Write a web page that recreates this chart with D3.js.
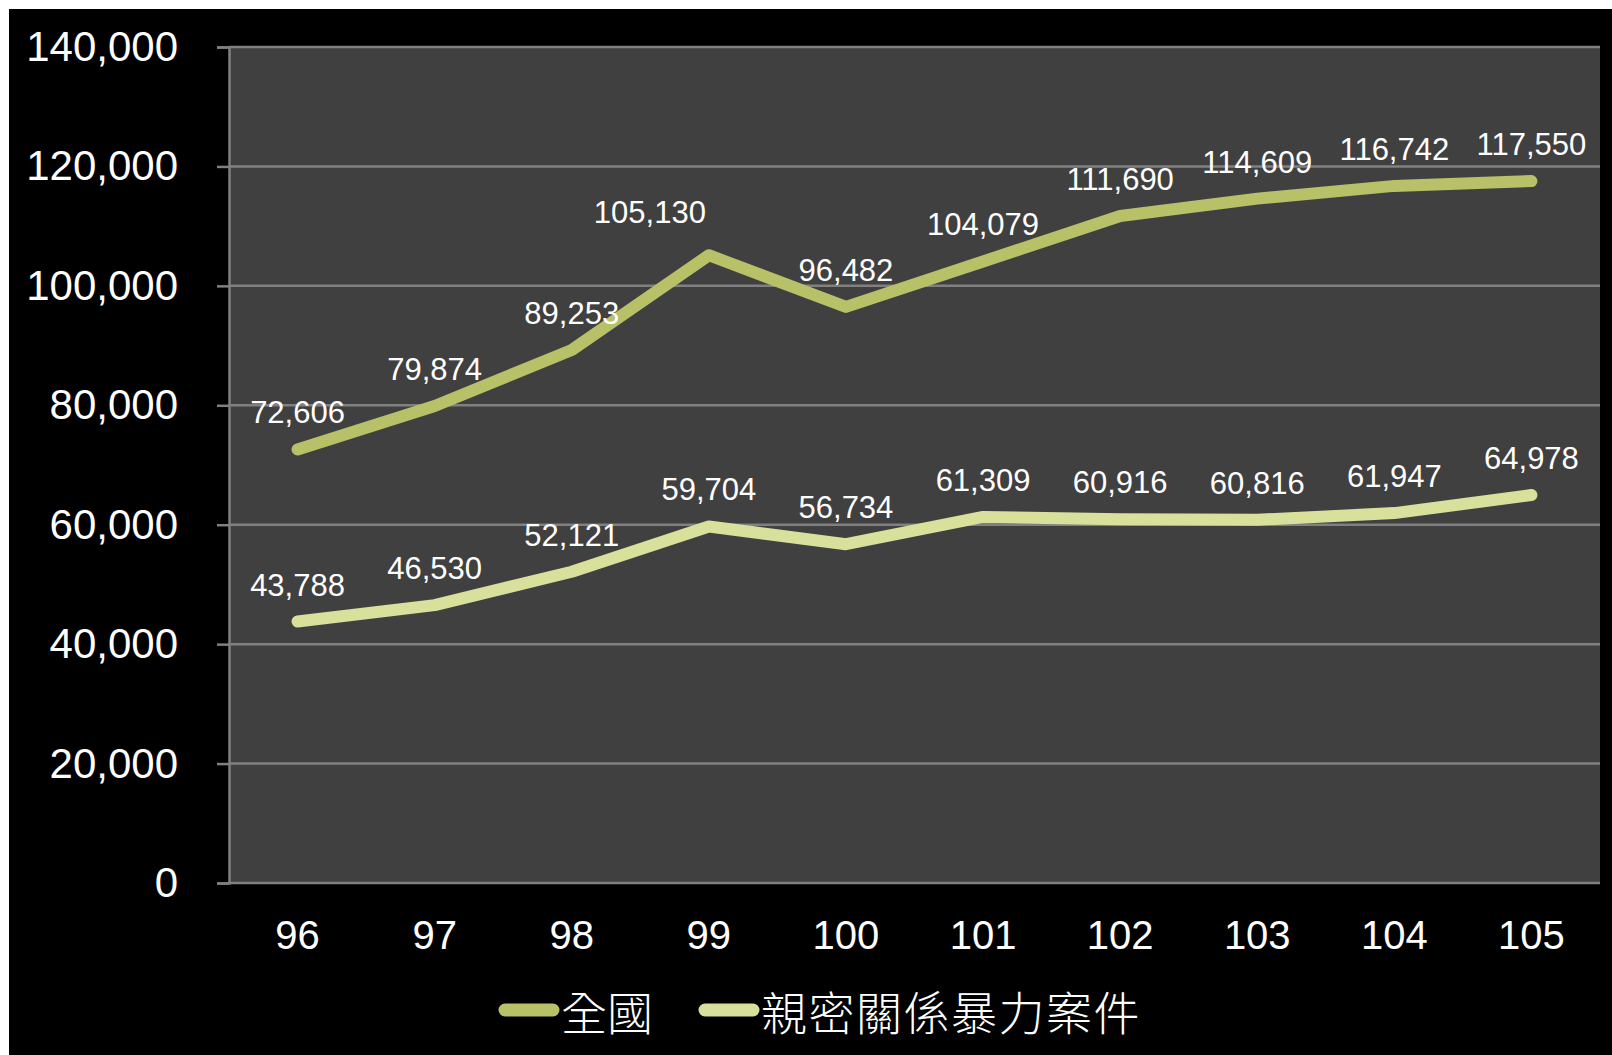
<!DOCTYPE html>
<html>
<head>
<meta charset="utf-8">
<script src="https://cdn.jsdelivr.net/npm/d3@7"></script>
<style>
  body { margin: 0; background: #fff; }
  svg { display: block; }
</style>
</head>
<body>
<div id="chart"></div>
<script>
var years = ["96", "97", "98", "99", "100", "101", "102", "103", "104", "105"];
var allCases = [72606, 79874, 89253, 105130, 96482, 104079, 111690, 114609, 116742, 117550];
var ipvCases = [43788, 46530, 52121, 59704, 56734, 61309, 60916, 60816, 61947, 64978];
var yTicks = [0, 20000, 40000, 60000, 80000, 100000, 120000, 140000];
var seriesNames = ["全國", "親密關係暴力案件"];
var seriesColors = ["#b8c068", "#d8e09c"];

var width = 1612, height = 1055;
var margin = {top: 47, right: 12, bottom: 172, left: 229};

var svg = d3.select("#chart")
    .append("svg")
      .attr("width", width)
      .attr("height", height);

svg.append("rect")
    .attr("x", 9).attr("y", 9)
    .attr("width", width - 9).attr("height", height - 9)
    .attr("fill", "#000");

var x = d3.scaleBand()
    .domain(years)
    .range([margin.left, width - margin.right]);

var y = d3.scaleLinear()
    .domain([0, 140000])
    .range([height - margin.bottom, margin.top]);

// plot background
svg.append("rect")
    .attr("x", margin.left)
    .attr("y", margin.top)
    .attr("width", width - margin.right - margin.left)
    .attr("height", y(0) - margin.top)
    .attr("fill", "#404040");

// gridlines
svg.append("g")
  .selectAll("line")
  .data(yTicks)
  .enter()
    .append("line")
      .attr("x1", margin.left)
      .attr("x2", width - margin.right)
      .attr("y1", function (d) { return y(d); })
      .attr("y2", function (d) { return y(d); })
      .attr("stroke", "#808080")
      .attr("stroke-width", 2.5);

var fmt = d3.format(",");

var yAxis = svg.append("g")
    .attr("transform", "translate(" + margin.left + ",0)")
    .call(d3.axisLeft(y).tickValues(yTicks).tickFormat(fmt).tickSize(12).tickPadding(39));
yAxis.select(".domain").attr("stroke", "#808080").attr("stroke-width", 2.5);
yAxis.selectAll(".tick line").attr("stroke", "#808080").attr("stroke-width", 2.5);
yAxis.selectAll("text")
    .attr("fill", "#fff")
    .style("font-family", "'Liberation Sans', Arial, sans-serif")
    .style("font-size", "42px");

var xAxis = svg.append("g")
    .attr("transform", "translate(0," + y(0) + ")")
    .call(d3.axisBottom(x).tickSize(0).tickPadding(38));
xAxis.select(".domain").remove();
xAxis.selectAll("text")
    .attr("fill", "#fff")
    .style("font-family", "'Liberation Sans', Arial, sans-serif")
    .style("font-size", "40px");

var cx = function (d, i) { return x(years[i]) + x.bandwidth() / 2; };

var line = d3.line()
    .x(function (d, i) { return cx(d, i); })
    .y(function (d) { return y(d); });

[allCases, ipvCases].forEach(function (values, s) {
  svg.append("path")
      .datum(values)
      .attr("d", line)
      .attr("fill", "none")
      .attr("stroke", seriesColors[s])
      .attr("stroke-width", 12)
      .attr("stroke-linejoin", "round")
      .attr("stroke-linecap", "round");

  svg.append("g")
    .selectAll("text")
    .data(values)
    .enter()
      .append("text")
        .attr("x", function (d, i) { return cx(d, i) + (s === 0 && i === 3 ? -59 : 0); })
        .attr("y", function (d, i) { return y(d) - (s === 0 && i === 3 ? 32 : 26); })
        .attr("text-anchor", "middle")
        .attr("fill", "#fff")
        .style("font-family", "'Liberation Sans', Arial, sans-serif")
        .style("font-size", "31px")
        .text(function (d) { return fmt(d); });
});

// legend
var legendX = [499, 699];
var legend = svg.append("g");
seriesNames.forEach(function (name, s) {
  legend.append("line")
      .attr("x1", legendX[s] + 6).attr("x2", legendX[s] + 54)
      .attr("y1", 1010).attr("y2", 1010)
      .attr("stroke", seriesColors[s])
      .attr("stroke-width", 13)
      .attr("stroke-linecap", "round");
  legend.append("text")
      .attr("x", legendX[s] + 62)
      .attr("y", 1010)
      .attr("dominant-baseline", "central")
      .attr("fill", "#fff")
      .style("font-family", "'Noto Sans CJK TC', sans-serif")
      .style("font-weight", "300")
      .style("font-size", "46px")
      .style("letter-spacing", s === 1 ? "1.5px" : "0px")
      .text(name);
});
</script>
</body>
</html>
